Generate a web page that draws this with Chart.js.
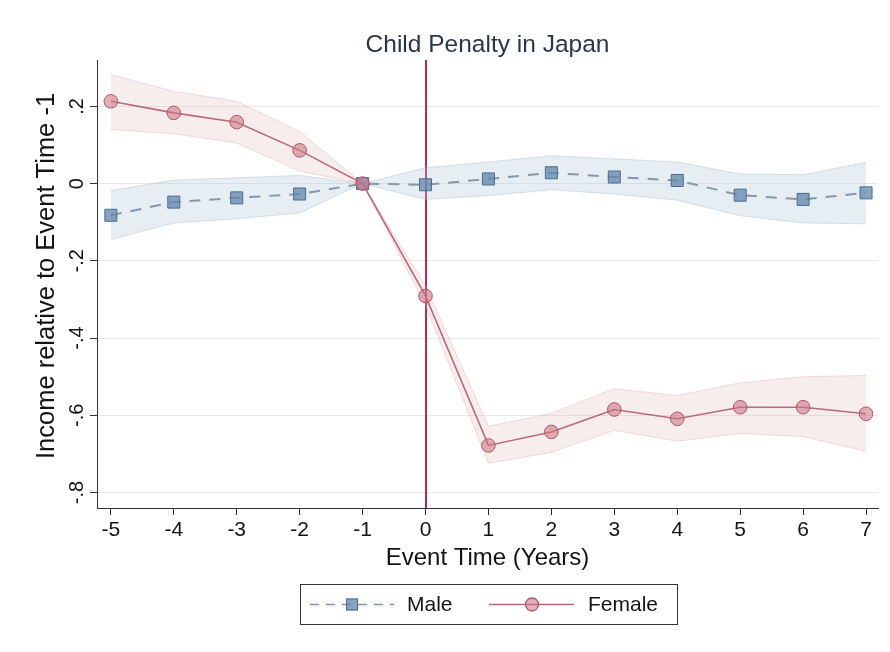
<!DOCTYPE html>
<html>
<head>
<meta charset="utf-8">
<script src="https://cdn.jsdelivr.net/npm/chart.js@4/dist/chart.umd.min.js"></script>
<style>
  html, body { margin: 0; padding: 0; background: #ffffff; }
  #wrap { width: 890px; height: 652px; }
</style>
</head>
<body>
<div id="wrap"><canvas id="c" width="890" height="652"></canvas></div>
<script>
// Event time relative to childbirth (years)
const eventYears = [-5, -4, -3, -2, -1, 0, 1, 2, 3, 4, 5, 6, 7];

// Male: point estimates and 95% confidence bounds
const maleEstimate = [-0.082, -0.048, -0.037, -0.027, 0, -0.003, 0.012, 0.028, 0.017, 0.008, -0.030, -0.041, -0.024];
const maleUpper    = [-0.018, 0.009, 0.015, 0.021, 0, 0.041, 0.056, 0.072, 0.064, 0.056, 0.025, 0.023, 0.055];
const maleLower    = [-0.145, -0.102, -0.091, -0.076, 0, -0.041, -0.031, -0.016, -0.027, -0.043, -0.083, -0.102, -0.104];

// Female: point estimates and 95% confidence bounds
const femaleEstimate = [0.213, 0.183, 0.159, 0.086, 0, -0.291, -0.678, -0.643, -0.585, -0.609, -0.579, -0.579, -0.596];
const femaleUpper    = [0.282, 0.239, 0.213, 0.135, 0, -0.265, -0.628, -0.595, -0.531, -0.549, -0.516, -0.500, -0.497];
const femaleLower    = [0.140, 0.129, 0.105, 0.032, 0, -0.315, -0.724, -0.696, -0.639, -0.667, -0.647, -0.655, -0.693];

// Axis ticks
const yTickValues = [0.2, 0, -0.2, -0.4, -0.6, -0.8];
const yTickLabels = ['.2', '0', '-.2', '-.4', '-.6', '-.8'];
const xTickValues = eventYears;

const FONT = '"Liberation Sans", Arial, sans-serif';
const maleLine = '#8797aa';
const maleFill = 'rgba(96,132,170,0.74)';
const maleEdge = '#4c6c8e';
const femaleLine = '#b86a78';
const femaleFill = 'rgba(204,118,132,0.58)';
const femaleEdge = '#b05464';
const eventLineColor = '#b02c58';

const pts = (ys) => eventYears.map((x, i) => ({ x, y: ys[i] }));

// Extra drawing: title, axis titles, rotated y labels, event line, legend
const decorations = {
  id: 'decorations',
  beforeDatasetsDraw(chart) {
    const { ctx, chartArea, scales } = chart;
    const x0 = scales.x.getPixelForValue(0);
    ctx.save();
    ctx.strokeStyle = eventLineColor;
    ctx.lineWidth = 2;
    ctx.beginPath();
    ctx.moveTo(Math.round(x0), chartArea.top);
    ctx.lineTo(Math.round(x0), chartArea.bottom);
    ctx.stroke();
    ctx.restore();
  },
  afterDraw(chart) {
    const { ctx, chartArea, scales } = chart;
    const cx = (chartArea.left + chartArea.right) / 2;
    ctx.save();
    // title
    ctx.fillStyle = '#2b3545';
    ctx.font = '24.5px ' + FONT;
    ctx.textAlign = 'center';
    ctx.textBaseline = 'middle';
    ctx.fillText('Child Penalty in Japan', cx, 45);
    // x title
    ctx.fillStyle = '#141414';
    ctx.font = '24px ' + FONT;
    ctx.fillText('Event Time (Years)', cx, 558);
    // y title
    ctx.save();
    ctx.translate(47, 276);
    ctx.rotate(-Math.PI / 2);
    ctx.font = '25.5px ' + FONT;
    ctx.fillText('Income relative to Event Time -1', 0, 0);
    ctx.restore();
    // y tick labels (vertical)
    ctx.font = '20px ' + FONT;
    yTickValues.forEach((v, i) => {
      const py = scales.y.getPixelForValue(v);
      ctx.save();
      ctx.translate(77, py);
      ctx.rotate(-Math.PI / 2);
      ctx.fillText(yTickLabels[i], 0, 0);
      ctx.restore();
    });
    // legend
    const bx = 300.5, by = 584.5, bw = 377, bh = 40;
    const ly = by + bh / 2;
    ctx.strokeStyle = '#333';
    ctx.lineWidth = 1;
    ctx.strokeRect(bx, by, bw, bh);
    // male key
    ctx.strokeStyle = maleLine;
    ctx.lineWidth = 1.5;
    ctx.setLineDash([9, 7]);
    ctx.beginPath();
    ctx.moveTo(310, ly); ctx.lineTo(394, ly);
    ctx.stroke();
    ctx.setLineDash([]);
    ctx.fillStyle = maleFill;
    ctx.strokeStyle = maleEdge;
    ctx.lineWidth = 1;
    ctx.fillRect(346, ly - 6, 12, 12);
    ctx.strokeRect(346.5, ly - 5.5, 11, 11);
    ctx.fillStyle = '#141414';
    ctx.font = '21px ' + FONT;
    ctx.textAlign = 'left';
    ctx.fillText('Male', 407, ly + 1);
    // female key
    ctx.strokeStyle = femaleLine;
    ctx.lineWidth = 1.3;
    ctx.beginPath();
    ctx.moveTo(489, ly); ctx.lineTo(574, ly);
    ctx.stroke();
    ctx.fillStyle = femaleFill;
    ctx.strokeStyle = femaleEdge;
    ctx.beginPath();
    ctx.arc(532, ly, 6.5, 0, Math.PI * 2);
    ctx.fill(); ctx.stroke();
    ctx.fillStyle = '#141414';
    ctx.fillText('Female', 588, ly + 1);
    ctx.restore();
  }
};

new Chart(document.getElementById('c'), {
  type: 'line',
  data: {
    datasets: [
      { label: 'male upper', data: pts(maleUpper), borderColor: 'rgba(150,175,200,0.35)', borderWidth: 1, pointRadius: 0, fill: false, order: 10 },
      { label: 'male lower', data: pts(maleLower), borderColor: 'rgba(150,175,200,0.35)', borderWidth: 1, pointRadius: 0, fill: '-1', backgroundColor: 'rgba(176,198,218,0.32)', order: 10 },
      { label: 'female upper', data: pts(femaleUpper), borderColor: 'rgba(215,160,165,0.35)', borderWidth: 1, pointRadius: 0, fill: false, order: 9 },
      { label: 'female lower', data: pts(femaleLower), borderColor: 'rgba(215,160,165,0.35)', borderWidth: 1, pointRadius: 0, fill: '-1', backgroundColor: 'rgba(226,180,180,0.24)', order: 9 },
      { label: 'Male', data: pts(maleEstimate), borderColor: maleLine, borderWidth: 2, borderDash: [11, 9],
        pointStyle: 'rect', pointRadius: 8.5, pointBackgroundColor: maleFill, pointBorderColor: maleEdge, pointBorderWidth: 1, fill: false, order: 2 },
      { label: 'Female', data: pts(femaleEstimate), borderColor: femaleLine, borderWidth: 1.6,
        pointStyle: 'circle', pointRadius: 6.8, pointBackgroundColor: femaleFill, pointBorderColor: femaleEdge, pointBorderWidth: 1, fill: false, order: 1 }
    ]
  },
  options: {
    responsive: false,
    animation: false,
    events: [],
    layout: { padding: { top: 60, right: 12, left: 0, bottom: 0 } },
    plugins: { legend: { display: false }, title: { display: false }, tooltip: { enabled: false } },
    elements: { line: { tension: 0 } },
    scales: {
      x: {
        type: 'linear',
        min: -5.22, max: 7.19,
        afterBuildTicks: (s) => { s.ticks = xTickValues.map(v => ({ value: v })); },
        afterFit: (s) => { s.height = 144; },
        ticks: { font: { family: FONT, size: 21 }, color: '#141414', padding: 3, maxRotation: 0, autoSkip: false },
        grid: { color: 'rgba(0,0,0,0)', tickColor: '#333', tickLength: 7, drawTicks: true },
        border: { display: true, color: '#333', width: 1 }
      },
      y: {
        type: 'linear',
        min: -0.84, max: 0.32,
        afterBuildTicks: (s) => { s.ticks = yTickValues.map(v => ({ value: v })); },
        afterFit: (s) => { s.width = 97; },
        ticks: { display: false },
        grid: { color: '#e8e8e8', tickColor: '#333', tickLength: 7, drawTicks: true },
        border: { display: true, color: '#333', width: 1 }
      }
    }
  },
  plugins: [decorations]
});
</script>
</body>
</html>
